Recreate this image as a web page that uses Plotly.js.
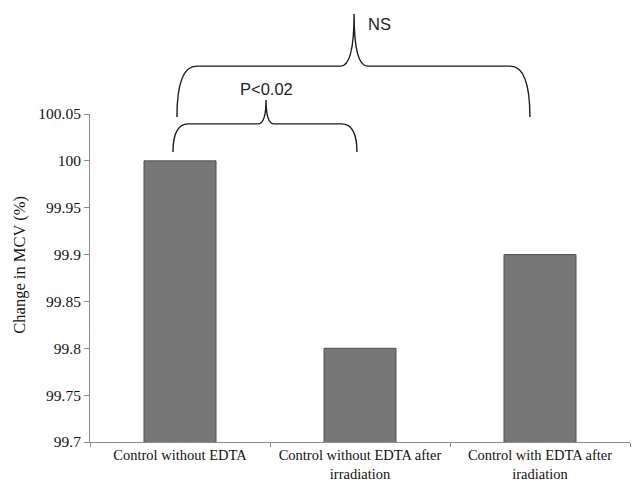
<!DOCTYPE html>
<html>
<head>
<meta charset="utf-8">
<script src="https://cdn.plot.ly/plotly-3.0.1.min.js"></script>
<style>html,body{margin:0;padding:0;background:#fff;}#chart{width:635px;height:487px;}</style>
</head>
<body>
<div id="chart"></div>
<script>
// Data
var categories = ["Control without EDTA", "Control without EDTA after<br>irradiation", "Control with EDTA after<br>iradiation"];
var mcvChange = [100, 99.8, 99.9];
var yTickVals = [99.7, 99.75, 99.8, 99.85, 99.9, 99.95, 100, 100.05];
var yTickText = ["99.7", "99.75", "99.8", "99.85", "99.9", "99.95", "100", "100.05"];
var comparisonLabels = ["P<0.02", "NS"];

// Brace path: left, right, tip (category units), bottom / bar / tip heights (paper y)
function bracePath(l, r, t, yb, yh, yt, cw, tw) {
  return "M" + l + "," + yb +
    " Q" + l + "," + yh + " " + (l + cw) + "," + yh +
    " L" + (t - tw) + "," + yh +
    " Q" + t + "," + yh + " " + t + "," + yt +
    " Q" + t + "," + yh + " " + (t + tw) + "," + yh +
    " L" + (r - cw) + "," + yh +
    " Q" + r + "," + yh + " " + r + "," + yb;
}

var trace = {
  type: "bar",
  x: categories,
  y: mcvChange,
  width: 0.4,
  marker: {color: "#777777", line: {color: "#4f4f4f", width: 1}},
  hoverinfo: "none"
};

var braceStyle = {color: "#1a1a1a", width: 1.4};

var layout = {
  width: 635, height: 487,
  margin: {l: 90, r: 5, t: 114, b: 45},
  paper_bgcolor: "#ffffff", plot_bgcolor: "#ffffff",
  showlegend: false,
  font: {family: "Liberation Serif, Times New Roman, serif", size: 14, color: "#111"},
  xaxis: {
    type: "category",
    range: [-0.5, 2.5],
    showline: true, linecolor: "#8a8a8a", linewidth: 1,
    ticks: "outside", tickson: "boundaries", ticklen: 4, tickcolor: "#8a8a8a",
    showgrid: false, zeroline: false,
    tickfont: {family: "Liberation Serif, serif", size: 14.5, color: "#111"}
  },
  yaxis: {
    range: [99.7, 100.05],
    tickvals: yTickVals, ticktext: yTickText,
    showline: true, linecolor: "#8a8a8a", linewidth: 1,
    ticks: "outside", ticklen: 5, tickcolor: "#8a8a8a",
    showgrid: false, zeroline: false,
    tickfont: {family: "Liberation Serif, serif", size: 15.5, color: "#111"}
  },
  shapes: [
    {type: "path", xref: "x", yref: "paper",
     path: bracePath(-0.039, 0.983, 0.478, 0.884, 0.970, 1.043, 0.085, 0.045),
     line: braceStyle},
    {type: "path", xref: "x", yref: "paper",
     path: bracePath(-0.017, 1.944, 0.967, 0.991, 1.146, 1.305, 0.11, 0.075),
     line: braceStyle}
  ],
  annotations: [
    {xref: "x", yref: "paper", x: 0.483, y: 1.076, xanchor: "center", yanchor: "middle",
     text: comparisonLabels[0], showarrow: false,
     font: {family: "Liberation Sans, Arial, sans-serif", size: 16.5, color: "#222"}},
    {xref: "x", yref: "paper", x: 1.111, y: 1.274, xanchor: "center", yanchor: "middle",
     text: comparisonLabels[1], showarrow: false,
     font: {family: "Liberation Sans, Arial, sans-serif", size: 16.5, color: "#222"}},
    {xref: "paper", yref: "paper", x: -0.13, y: 0.54, xanchor: "center", yanchor: "middle",
     text: "Change in MCV (%)", textangle: -90,
     showarrow: false, font: {family: "Liberation Serif, serif", size: 16.5, color: "#111"}}
  ]
};

Plotly.newPlot("chart", [trace], layout, {staticPlot: true, displayModeBar: false});
</script>
</body>
</html>
